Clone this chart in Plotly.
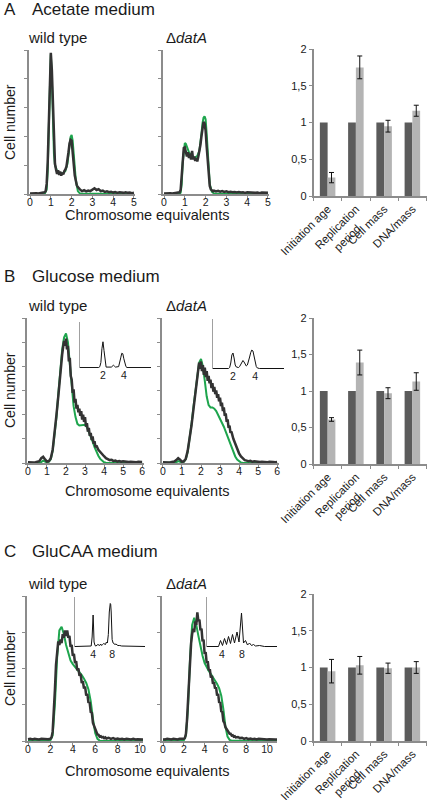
import plotly.graph_objects as go

W, H = 429, 800
FONT = "Liberation Sans, Arial, sans-serif"
GREY = "#8c8c8c"
DARK = "#333333"
GREEN = "#1ea54d"
BAR_DARK = "#5b5b5b"
BAR_LIGHT = "#b4b4b4"
TXT = "#1a1a1a"

# ---------------- Panel A: Acetate medium ----------------
A_DARK_X = [0, 0.1, 0.2, 0.3, 0.4, 0.5, 0.6, 0.7,
            0.75, 0.8, 0.85, 0.9, 0.95, 1.0, 1.05, 1.1, 1.15, 1.2,
            1.25, 1.3, 1.35, 1.4, 1.45, 1.5, 1.55, 1.6, 1.65, 1.7,
            1.75, 1.8, 1.85, 1.9, 1.95, 2.0, 2.05, 2.1, 2.15, 2.2,
            2.25, 2.3, 2.35, 2.4,
            2.5, 2.6, 2.7, 2.8, 2.9, 3.0, 3.1, 3.2, 3.3, 3.4, 3.5, 3.6, 3.7,
            3.8, 3.9, 4.0, 4.1, 4.2, 4.3, 4.4, 4.5, 4.6, 4.7, 4.8, 4.9, 5.0]
A_WT_DARK = [0.02, 0.03, 0.02, 0.03, 0.02, 0.03, 0.04, 0.06,
             0.1, 0.35, 1.1, 2.6, 4.2, 4.9, 4.3, 2.9, 1.7, 1.05,
             0.85, 0.7, 0.82, 0.66, 0.78, 0.64, 0.74, 0.68, 0.8, 0.85,
             0.95, 1.15, 1.45, 1.75, 1.88, 1.85, 1.55, 1.05, 0.65, 0.42,
             0.3, 0.24, 0.18, 0.16,
             0.1, 0.13, 0.09, 0.12, 0.1, 0.16, 0.2, 0.14, 0.17, 0.1, 0.12, 0.07, 0.09,
             0.06, 0.08, 0.05, 0.07, 0.04, 0.06, 0.05, 0.04, 0.06, 0.04, 0.05, 0.03, 0.04]
A_DA_DARK = [0.02, 0.03, 0.02, 0.03, 0.02, 0.03, 0.02, 0.04,
             0.06, 0.15, 0.55, 1.2, 1.6, 1.62, 1.5, 1.3, 1.45, 1.25,
             1.4, 1.2, 1.5, 1.2, 1.3, 1.15, 1.25, 1.13, 1.3, 1.45,
             1.7, 2.0, 2.3, 2.5, 2.45, 2.2, 1.65, 1.05, 0.55, 0.28,
             0.16, 0.12, 0.1, 0.12,
             0.09, 0.11, 0.08, 0.1, 0.07, 0.09, 0.06, 0.08, 0.06, 0.07, 0.05, 0.07, 0.05,
             0.06, 0.04, 0.06, 0.05, 0.04, 0.05, 0.04, 0.05, 0.03, 0.05, 0.04, 0.03, 0.04]
A_WT_GREEN_X = [0, 0.7, 0.8, 0.85, 0.9, 0.95, 1.0, 1.05, 1.1, 1.15, 1.2, 1.3, 1.4, 1.5,
                1.6, 1.7, 1.8, 1.85, 1.9, 1.95, 2.0, 2.05, 2.1, 2.2, 2.3, 2.4, 5.0]
A_WT_GREEN = [0, 0, 0.15, 0.8, 2.2, 3.9, 4.85, 4.0, 2.4, 1.4, 1.0, 0.8, 0.74, 0.72,
              0.73, 0.8, 1.05, 1.35, 1.7, 1.98, 2.05, 1.85, 1.4, 0.5, 0.1, 0.02, 0.0]
A_DA_GREEN_X = [0, 0.75, 0.8, 0.85, 0.9, 0.95, 1.0, 1.05, 1.1, 1.2, 1.3, 1.4, 1.5, 1.6,
                1.7, 1.75, 1.8, 1.85, 1.9, 1.95, 2.0, 2.05, 2.1, 2.15, 2.2, 2.3, 2.4, 5.0]
A_DA_GREEN = [0, 0, 0.05, 0.35, 1.1, 1.6, 1.77, 1.74, 1.62, 1.45, 1.35, 1.28, 1.27, 1.32,
              1.5, 1.75, 2.1, 2.45, 2.65, 2.7, 2.6, 2.1, 1.4, 0.75, 0.35, 0.08, 0.02, 0]

# ---------------- Panel B: Glucose medium ----------------
B_DARK_X = [0, 0.1, 0.2, 0.3, 0.4, 0.5, 0.6, 0.7, 0.8, 0.9, 1.0, 1.1, 1.2, 1.3, 1.4,
            1.5, 1.6, 1.7, 1.8,
            1.85, 1.9, 1.95, 2.0, 2.05, 2.1, 2.15, 2.2, 2.25, 2.3,
            2.35, 2.4, 2.45, 2.5, 2.55, 2.6, 2.65, 2.7, 2.75, 2.8,
            2.85, 2.9, 2.95, 3.0, 3.05, 3.1, 3.15, 3.2, 3.25, 3.3,
            3.35, 3.4, 3.45, 3.5, 3.55, 3.6,
            3.7, 3.8, 3.9, 4.0, 4.1, 4.2, 4.3, 4.4, 4.5, 4.6, 4.7, 4.8, 4.9, 5.0,
            5.1, 5.2, 5.3, 5.4, 5.5, 5.6, 5.7, 5.8, 5.9, 6.0]
B_WT_DARK = [0.03, 0.02, 0.03, 0.02, 0.03, 0.04, 0.08, 0.2, 0.26, 0.15, 0.06, 0.08, 0.2, 0.55, 1.2,
             2.0, 2.8, 3.8, 4.5,
             4.8, 5.05, 4.85, 5.15, 4.7, 4.85, 4.2, 4.35, 3.6, 3.45,
             2.9, 3.05, 2.5, 2.65, 2.25, 2.4, 2.1, 2.25, 1.95, 2.15,
             1.8, 2.0, 1.7, 1.9, 1.5, 1.65, 1.3, 1.45, 1.12, 1.25,
             0.95, 1.1, 0.8, 0.9, 0.65, 0.72,
             0.55, 0.45, 0.35, 0.28, 0.2, 0.17, 0.12, 0.13, 0.08, 0.1, 0.06, 0.08, 0.05, 0.07,
             0.05, 0.06, 0.04, 0.05, 0.04, 0.05, 0.03, 0.05, 0.03, 0.04]
B_DA_DARK = [0.03, 0.02, 0.03, 0.02, 0.03, 0.04, 0.06, 0.12, 0.2, 0.14, 0.05, 0.07, 0.18, 0.5, 1.0,
             1.55, 2.2, 2.9, 3.6,
             3.8, 4.15, 3.9, 4.2, 3.8, 4.05, 3.65, 3.95, 3.55, 3.8,
             3.4, 3.6, 3.3, 3.45, 3.1, 3.3, 2.95, 3.15, 2.85, 3.0,
             2.7, 2.85, 2.55, 2.7, 2.35, 2.5, 2.15, 2.3, 1.95, 2.05,
             1.7, 1.8, 1.45, 1.55, 1.25, 1.3,
             1.0, 0.78, 0.55, 0.4, 0.27, 0.18, 0.12, 0.1, 0.07, 0.09, 0.05, 0.07, 0.05, 0.06,
             0.04, 0.05, 0.04, 0.05, 0.03, 0.05, 0.03, 0.04, 0.03, 0.04]
B_GREEN_X = [0, 0.6, 0.7, 0.8, 0.9, 1.0, 1.1, 1.2, 1.3, 1.4, 1.5, 1.6, 1.7, 1.8, 1.9, 2.0,
             2.1, 2.2, 2.3, 2.4, 2.5, 2.6, 2.7, 2.8, 2.9, 3.0, 3.1, 3.2, 3.3, 3.4, 3.5,
             3.6, 3.7, 3.8, 3.9, 4.0, 4.1, 4.2, 6.0]
B_WT_GREEN = [0, 0, 0.04, 0.1, 0.06, 0.02, 0.05, 0.15, 0.5, 1.1, 1.9, 2.9, 3.9, 4.7, 5.2, 5.36,
              5.0, 4.1, 3.1, 2.35, 1.9, 1.62, 1.55, 1.56, 1.6, 1.58, 1.48, 1.3, 1.1, 0.88, 0.66,
              0.46, 0.3, 0.17, 0.08, 0.03, 0.01, 0, 0]
B_DA_GREEN = [0, 0, 0.03, 0.08, 0.05, 0.02, 0.05, 0.15, 0.45, 0.95, 1.6, 2.3, 3.0, 3.7, 4.15, 4.3,
              4.0, 3.4, 2.75, 2.4, 2.3, 2.3, 2.25, 2.15, 2.0, 1.85, 1.68, 1.5, 1.3, 1.08, 0.85,
              0.64, 0.44, 0.27, 0.14, 0.06, 0.02, 0, 0]
# insets (raw histograms)
B_WT_INSET_X = [-0.2, 1.6, 1.7, 1.8, 1.9, 2.0, 2.1, 2.2, 2.3, 2.8, 2.9, 3.0, 3.1, 3.2, 3.5,
                3.6, 3.7, 3.8, 3.9, 4.0, 4.1, 4.2, 4.3, 6.6]
B_WT_INSET = [0.01, 0.01, 0.03, 0.12, 0.42, 0.57, 0.38, 0.1, 0.02, 0.02, 0.04, 0.06, 0.04, 0.02, 0.03,
              0.1, 0.22, 0.32, 0.31, 0.2, 0.08, 0.03, 0.01, 0.01]
B_DA_INSET_X = [0.2, 1.6, 1.7, 1.8, 1.9, 2.0, 2.1, 2.2, 2.3, 2.5, 2.6, 2.7, 2.8, 2.9, 3.0, 3.1,
                3.2, 3.3, 3.4, 3.5, 3.6, 3.7, 3.8, 3.9, 4.0, 4.1, 4.2, 4.3, 4.4, 6.6]
B_DA_INSET = [0.01, 0.01, 0.03, 0.12, 0.28, 0.32, 0.22, 0.08, 0.04, 0.03, 0.05, 0.1, 0.15, 0.17, 0.14, 0.08,
              0.06, 0.08, 0.14, 0.24, 0.33, 0.38, 0.36, 0.26, 0.13, 0.05, 0.02, 0.01, 0.01, 0.01]

# ---------------- Panel C: GluCAA medium ----------------
C_DARK_X = [0, 0.2, 0.4, 0.6, 0.8, 1.0, 1.2, 1.4, 1.6, 1.8, 2.0,
            2.1, 2.2, 2.3, 2.4, 2.5, 2.6, 2.7, 2.8, 2.9, 3.0,
            3.1, 3.2, 3.3, 3.4, 3.5, 3.6, 3.7, 3.8, 3.9, 4.0,
            4.1, 4.2, 4.3, 4.4, 4.5, 4.6, 4.7, 4.8, 4.9, 5.0,
            5.1, 5.2, 5.3, 5.4, 5.5, 5.6, 5.7, 5.8, 5.9, 6.0,
            6.1, 6.2, 6.3, 6.4, 6.5, 6.6, 6.7, 6.8, 6.9, 7.0,
            7.2, 7.4, 7.6, 7.8, 8.0, 8.2, 8.4, 8.6, 8.8, 9.0,
            9.2, 9.4, 9.6, 9.8, 10.0, 10.2, 10.4, 10.6, 10.8, 11.0]
C_WT_DARK = [0.05, 0.06, 0.04, 0.06, 0.05, 0.04, 0.06, 0.05, 0.04, 0.05, 0.06,
             0.1, 0.25, 0.7, 1.4, 2.1, 2.55, 2.75, 2.65, 2.8, 2.7,
             2.95, 2.85, 3.05, 2.9, 3.05, 2.85, 2.9, 2.6, 2.65, 2.35,
             2.4, 2.15, 2.2, 1.95, 2.0, 1.8, 1.85, 1.6, 1.65, 1.45,
             1.5, 1.25, 1.3, 1.05, 1.08, 0.8, 0.78, 0.5, 0.42, 0.3,
             0.25, 0.18, 0.17, 0.12, 0.13, 0.1, 0.11, 0.08, 0.1, 0.07,
             0.09, 0.06, 0.08, 0.05, 0.07, 0.05, 0.06, 0.04, 0.06, 0.05,
             0.04, 0.06, 0.04, 0.05, 0.04, 0.05, 0.04, 0.05, 0.04, 0.04]
C_DA_DARK = [0.05, 0.04, 0.06, 0.05, 0.04, 0.06, 0.05, 0.04, 0.06, 0.05, 0.06,
             0.08, 0.2, 0.55, 1.1, 1.7, 2.3, 2.7, 2.95, 3.1, 3.0,
             3.3, 3.2, 3.55, 3.3, 3.35, 3.05, 3.1, 2.75, 2.8, 2.4,
             2.45, 2.15, 2.2, 1.95, 1.98, 1.75, 1.8, 1.58, 1.62, 1.45,
             1.48, 1.25, 1.3, 1.05, 1.08, 0.82, 0.8, 0.55, 0.5, 0.38,
             0.33, 0.26, 0.25, 0.2, 0.2, 0.15, 0.16, 0.12, 0.13, 0.1,
             0.11, 0.08, 0.09, 0.06, 0.08, 0.05, 0.07, 0.05, 0.06, 0.04,
             0.06, 0.05, 0.04, 0.05, 0.04, 0.05, 0.04, 0.05, 0.04, 0.04]
C_GREEN_X = [0, 1.8, 2.0, 2.2, 2.4, 2.6, 2.8, 3.0, 3.2, 3.4, 3.6, 3.8, 4.0, 4.2, 4.4, 4.6,
             4.8, 5.0, 5.2, 5.4, 5.6, 5.8, 6.0, 6.2, 6.4, 6.6, 11]
C_WT_GREEN = [0, 0, 0.02, 0.15, 1.0, 2.3, 3.05, 3.15, 2.95, 2.65, 2.4, 2.22, 2.12, 2.05, 1.98, 1.9,
              1.82, 1.72, 1.6, 1.42, 1.1, 0.62, 0.22, 0.06, 0.01, 0, 0]
C_DA_GREEN = [0, 0, 0.02, 0.15, 0.9, 2.3, 3.2, 3.4, 3.2, 2.9, 2.6, 2.35, 2.15, 2.02, 1.93, 1.85,
              1.76, 1.67, 1.57, 1.45, 1.25, 0.88, 0.4, 0.12, 0.03, 0.01, 0]
C_WT_INSET_X = [0.2, 3.4, 3.6, 3.8, 3.9, 4.0, 4.1, 4.2, 4.4, 4.6, 5.0, 5.4, 5.6, 5.8, 6.0, 6.2,
                6.6, 6.8, 7.0, 7.2, 7.4, 7.6, 7.7, 7.8, 8.0, 8.2, 8.4, 8.6, 8.8, 9.2, 9.6, 10, 14.9]
C_WT_INSET = [0.01, 0.01, 0.02, 0.2, 0.5, 0.64, 0.4, 0.1, 0.03, 0.02, 0.05, 0.03, 0.06, 0.03, 0.05, 0.07,
              0.05, 0.1, 0.08, 0.25, 0.7, 0.87, 0.85, 0.7, 0.15, 0.08, 0.06, 0.05, 0.06, 0.03, 0.03, 0.02, 0.01]
C_DA_INSET_X = [1, 3.3, 3.7, 4.1, 4.5, 4.9, 5.3, 5.7, 6.1, 6.5, 7.0, 7.4, 7.9, 8.3, 8.7, 9.1,
                9.5, 9.9, 10.3, 10.7, 11.5, 12.5, 15]
C_DA_INSET = [0.01, 0.01, 0.13, 0.03, 0.17, 0.05, 0.21, 0.07, 0.25, 0.08, 0.3, 0.1, 0.68, 0.08, 0.13, 0.04,
              0.08, 0.03, 0.05, 0.02, 0.03, 0.01, 0.01]

# ---------------- Bar charts (ΔdatA relative to wild type) ----------------
BAR_CATS = ["Initiation age", "Replication<br>period\u00a0\u00a0\u00a0\u00a0", "Cell mass", "DNA/mass"]
WT_REL = [1, 1, 1, 1]
A_REL = [0.25, 1.75, 0.95, 1.16]
A_ERR = [0.07, 0.155, 0.08, 0.075]
B_REL = [0.61, 1.39, 0.97, 1.13]
B_ERR = [0.025, 0.17, 0.075, 0.12]
C_REL = [0.95, 1.03, 0.99, 1.0]
C_ERR = [0.16, 0.12, 0.07, 0.08]
BAR_TICKS = [0, 0.5, 1, 1.5, 2]
BAR_TICKTEXT = ["0", "0,5", "1", "1,5", "2"]

fig = go.Figure()
layout = {}


def pxx(p):
    return p / W


def pxy(p):
    return 1 - p / H


def ax_names(n):
    if n == 1:
        return "xaxis", "yaxis", "x", "y"
    return f"xaxis{n}", f"yaxis{n}", f"x{n}", f"y{n}"


def set_axes(n, xpx, ypx, xopts, yopts):
    xa, ya, xr, yr = ax_names(n)
    layout[xa] = dict(domain=[pxx(xpx[0]), pxx(xpx[1])], anchor=yr, showgrid=False,
                      zeroline=False, automargin=False, fixedrange=True, **xopts)
    layout[ya] = dict(domain=[pxy(ypx[1]), pxy(ypx[0])], anchor=xr, showgrid=False,
                      zeroline=False, automargin=False, fixedrange=True, **yopts)
    return xr, yr


def hist_axes(n, xpx, ypx, xrange, xticks, ymax):
    xo = dict(range=xrange, showline=True, linecolor=GREY, linewidth=1.5, ticks="outside",
              ticklen=3, tickwidth=1, tickcolor=GREY, tickvals=xticks, ticklabelstandoff=-5,
              tickfont=dict(size=10.5, color=TXT, family=FONT))
    yo = dict(range=[0, ymax], showline=True, linecolor=GREY, linewidth=1.5, ticks="outside",
              ticklen=3, tickwidth=1, tickcolor=GREY, tickvals=list(range(0, ymax + 1)),
              showticklabels=False)
    return set_axes(n, xpx, ypx, xo, yo)


def inset_axes(n, xpx, ypx, xrange, xticks):
    xo = dict(range=xrange, showline=False, ticks="", tickvals=xticks, ticklabelstandoff=-1,
              tickfont=dict(size=10.5, color=TXT, family=FONT))
    yo = dict(range=[0, 1], showline=True, linecolor="#a0a0a0", linewidth=1, ticks="",
              showticklabels=False)
    return set_axes(n, xpx, ypx, xo, yo)


def bar_axes(n, xpx, ypx):
    xo = dict(type="category", showline=True, linecolor=GREY, linewidth=1.5, ticks="outside",
              tickson="boundaries", ticklen=3, tickcolor=GREY, tickangle=-45,
              tickfont=dict(size=11.5, color=TXT, family=FONT))
    yo = dict(range=[0, 2], showline=True, linecolor=GREY, linewidth=1.5, ticks="outside",
              ticklen=3, tickcolor=GREY, tickvals=BAR_TICKS, ticktext=BAR_TICKTEXT,
              tickfont=dict(size=11, color=TXT, family=FONT))
    return set_axes(n, xpx, ypx, xo, yo)


def add_hist(xr, yr, gx, gy, dx, dy):
    fig.add_trace(go.Scatter(x=gx, y=gy, mode="lines", xaxis=xr, yaxis=yr,
                             line=dict(color=GREEN, width=2), showlegend=False))
    fig.add_trace(go.Scatter(x=dx, y=dy, mode="lines", xaxis=xr, yaxis=yr,
                             line=dict(color=DARK, width=2.5), showlegend=False))


def add_inset(xr, yr, x, y):
    fig.add_trace(go.Scatter(x=x, y=y, mode="lines", xaxis=xr, yaxis=yr,
                             line=dict(color="#111111", width=1), showlegend=False))


def add_bars(xr, yr, rel, err):
    fig.add_trace(go.Bar(x=BAR_CATS, y=WT_REL, xaxis=xr, yaxis=yr, marker_color=BAR_DARK,
                         marker_line_width=0, showlegend=False))
    fig.add_trace(go.Bar(x=BAR_CATS, y=rel, xaxis=xr, yaxis=yr, marker_color=BAR_LIGHT,
                         marker_line_width=0, showlegend=False,
                         error_y=dict(type="data", array=err, visible=True, color="#111111",
                                      thickness=1, width=2.5)))


# --- A
xr, yr = hist_axes(1, (29, 135), (50, 194), [-0.05, 5.05], [0, 1, 2, 3, 4, 5], 5)
add_hist(xr, yr, A_WT_GREEN_X, A_WT_GREEN, A_DARK_X, A_WT_DARK)
xr, yr = hist_axes(2, (163, 269), (50, 194), [-0.05, 5.05], [0, 1, 2, 3, 4, 5], 5)
add_hist(xr, yr, A_DA_GREEN_X, A_DA_GREEN, A_DARK_X, A_DA_DARK)
xr, yr = bar_axes(3, (313.5, 426.5), (49, 196))
add_bars(xr, yr, A_REL, A_ERR)

# --- B
xr, yr = hist_axes(4, (27, 144), (318, 463), [-0.05, 6.1], [0, 1, 2, 3, 4, 5, 6], 6)
add_hist(xr, yr, B_GREEN_X, B_WT_GREEN, B_DARK_X, B_WT_DARK)
xr, yr = hist_axes(5, (162, 279), (318, 463), [-0.05, 6.1], [0, 1, 2, 3, 4, 5, 6], 6)
add_hist(xr, yr, B_GREEN_X, B_DA_GREEN, B_DARK_X, B_DA_DARK)
xr, yr = inset_axes(6, (80, 151), (322, 368), [-0.2, 6.6], [2, 4])
add_inset(xr, yr, B_WT_INSET_X, B_WT_INSET)
xr, yr = inset_axes(7, (213, 284), (319, 369), [0.2, 6.6], [2, 4])
add_inset(xr, yr, B_DA_INSET_X, B_DA_INSET)
xr, yr = bar_axes(8, (313.5, 426.5), (318, 464))
add_bars(xr, yr, B_REL, B_ERR)

# --- C
xr, yr = hist_axes(9, (27, 143), (596, 741), [-0.09, 10.27], [0, 2, 4, 6, 8, 10], 4)
add_hist(xr, yr, C_GREEN_X, C_WT_GREEN, C_DARK_X, C_WT_DARK)
xr, yr = hist_axes(10, (162, 277), (596, 741), [-0.1, 10.96], [0, 2, 4, 6, 8, 10], 4)
add_hist(xr, yr, C_GREEN_X, C_DA_GREEN, C_DARK_X, C_DA_DARK)
xr, yr = inset_axes(11, (75, 145), (597, 647), [0.2, 14.9], [4, 8])
add_inset(xr, yr, C_WT_INSET_X, C_WT_INSET)
xr, yr = inset_axes(12, (207, 277), (597, 647), [1, 15], [4, 8])
add_inset(xr, yr, C_DA_INSET_X, C_DA_INSET)
xr, yr = bar_axes(13, (313.5, 426.5), (594, 741))
add_bars(xr, yr, C_REL, C_ERR)

# --- texts
ann = []


def text(s, px, py, size, xanchor="left", angle=0):
    ann.append(dict(text=s, x=pxx(px), y=pxy(py), xref="paper", yref="paper",
                    xanchor=xanchor, yanchor="middle", showarrow=False, textangle=angle,
                    font=dict(size=size, color=TXT, family=FONT)))


for letter, title, ty, sy, cy, chy in [("A", "Acetate medium", 10, 38, 122, 215),
                                       ("B", "Glucose medium", 276, 305, 390, 491),
                                       ("C", "GluCAA medium", 551, 583, 668, 771)]:
    text(letter, 2, ty, 17)
    text(title, 30, ty, 17)
    text("wild type", 26, sy, 15)
    text("\u0394<i>datA</i>", 164, sy, 15)
    text("Cell number", 10, cy, 14, xanchor="center", angle=-90)
    text("Chromosome equivalents", 147, chy, 14.5, xanchor="center")

layout.update(dict(template="none", width=W, height=H, margin=dict(l=0, r=0, t=0, b=0, pad=0),
                   paper_bgcolor="white", plot_bgcolor="rgba(0,0,0,0)",
                   barmode="group", bargap=0.45, bargroupgap=0, annotations=ann,
                   font=dict(family=FONT, color=TXT), showlegend=False))
fig.update_layout(**layout)
fig.write_html("out.html", config={"displayModeBar": False},
               post_script="document.body.style.margin='0';document.body.style.overflow='hidden';")
